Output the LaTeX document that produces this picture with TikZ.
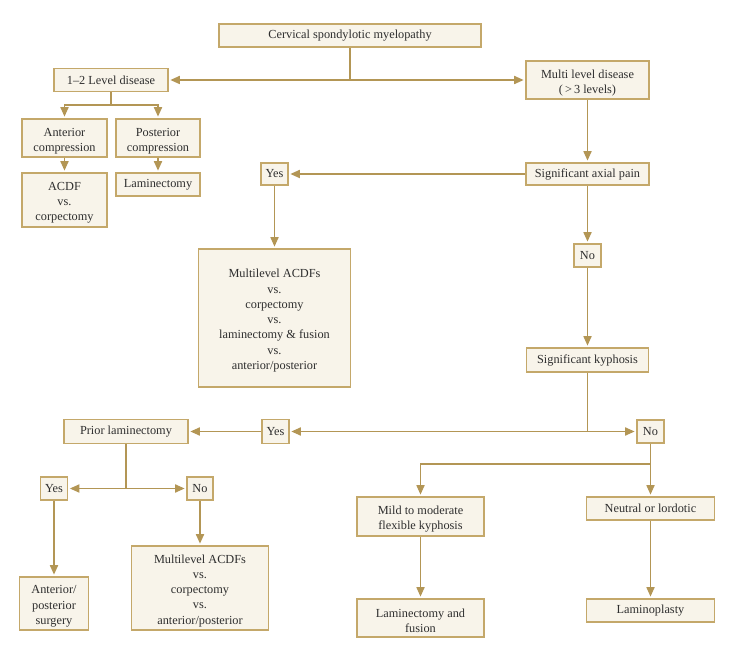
\documentclass[tikz,border=0pt]{standalone}
\usepackage{fontspec}
\setmainfont{Liberation Serif}
\usetikzlibrary{arrows.meta}
\definecolor{lnc}{HTML}{B39655}
\definecolor{bdc}{HTML}{C4A86A}
\definecolor{fillc}{HTML}{F8F4EA}
\definecolor{txtc}{HTML}{2E2E2E}
\newcommand{\strutup}{\rule{0pt}{14pt}}
\begin{document}
\begin{tikzpicture}[x=1pt,y=-1pt,
  box/.style={draw=bdc, fill=fillc, line width=1.7pt, align=center, inner sep=0pt,
    text=txtc, font=\fontsize{12.3}{15.3}\selectfont},
  conn/.style={draw=lnc, line width=1.7pt},
  tip/.tip={Triangle[length=9.5pt,width=8pt]},
  arr/.style={conn, -tip, shorten >=1.5pt},
  darr/.style={conn, tip-tip, shorten >=1.5pt, shorten <=1.5pt}]
\useasboundingbox (0,0) rectangle (731,652);
\fill[white] (0,0) rectangle (731,652);
% nodes
\node[box, minimum width=262pt, minimum height=23pt] (cerv) at (350,35.5) {Cervical spondylotic myelopathy};
\node[box, minimum width=114pt, minimum height=23pt] (l12) at (111,80) {1–2 Level disease};
\node[box, minimum width=123pt, minimum height=38pt] (multi) at (587.5,80) {\strutup Multi level disease\\(\,>\,3 levels)};
\node[box, minimum width=85pt, minimum height=38pt] (ant) at (64.5,138) {\strutup Anterior\\compression};
\node[box, minimum width=84pt, minimum height=38pt] (post) at (158,138) {\strutup Posterior\\compression};
\node[box, minimum width=85pt, minimum height=54pt] (acdf) at (64.5,200) {\strutup ACDF\\vs.\\corpectomy};
\node[box, minimum width=84pt, minimum height=23pt] (lam) at (158,184.5) {Laminectomy};
\node[box, minimum width=27pt, minimum height=22pt] (yes1) at (274.5,174) {Yes};
\node[box, minimum width=123pt, minimum height=22pt] (axial) at (587.5,174) {Significant axial pain};
\node[box, minimum width=152pt, minimum height=138pt] (mla) at (274.5,318) {\strutup Multilevel ACDFs\\vs.\\corpectomy\\vs.\\laminectomy \& fusion\\vs.\\anterior/posterior};
\node[box, minimum width=27pt, minimum height=23pt] (no1) at (587.5,255.5) {No};
\node[box, minimum width=122pt, minimum height=24pt] (kyph) at (587.5,360) {Significant kyphosis};
\node[box, minimum width=124pt, minimum height=24pt] (prior) at (126,431.5) {Prior laminectomy};
\node[box, minimum width=27pt, minimum height=24pt] (yes2) at (275.5,431.5) {Yes};
\node[box, minimum width=27pt, minimum height=23pt] (no2) at (650.5,431.5) {No};
\node[box, minimum width=27pt, minimum height=23pt] (yes3) at (54,488.5) {Yes};
\node[box, minimum width=26pt, minimum height=23pt] (no3) at (200,488.5) {No};
\node[box, minimum width=69pt, minimum height=53pt] (antpost) at (54,603.5) {\strutup Anterior/\\posterior\\surgery};
\node[box, minimum width=137pt, minimum height=84pt] (ml2) at (200,588) {\strutup Multilevel ACDFs\\vs.\\corpectomy\\vs.\\anterior/posterior};
\node[box, minimum width=127pt, minimum height=39pt] (mild) at (420.5,516.5) {\strutup Mild to moderate\\flexible kyphosis};
\node[box, minimum width=128pt, minimum height=23pt] (neut) at (650.5,508.5) {Neutral or lordotic};
\node[box, minimum width=127pt, minimum height=38pt] (lamfus) at (420.5,618) {\strutup Laminectomy and\\fusion};
\node[box, minimum width=128pt, minimum height=23pt] (lamp) at (650.5,610.5) {Laminoplasty};
% connectors
\draw[conn] (cerv.south) -- (cerv.south |- l12.east);
\draw[darr] (l12.east) -- (multi.west);
\draw[conn] (l12.south) -- ++(0,12.5) coordinate (b1);
\draw[arr] (b1) -| (ant.north);
\draw[arr] (b1) -| (post.north);
\draw[arr] (ant.south) -- (acdf.north);
\draw[arr] (post.south) -- (lam.north);
\draw[arr] (multi.south) -- (axial.north);
\draw[arr] (axial.west) -- (yes1.east);
\draw[arr] (yes1.south) -- (mla.north);
\draw[arr] (axial.south) -- (no1.north);
\draw[arr] (no1.south) -- (kyph.north);
\draw[conn] (kyph.south) -- (kyph.south |- no2.west);
\draw[darr] (yes2.east) -- (no2.west);
\draw[arr] (yes2.west) -- (prior.east);
\draw[conn] (prior.south) -- (prior.south |- yes3.east) coordinate (b2);
\draw[arr] (b2) -- (yes3.east);
\draw[arr] (b2) -- (no3.west);
\draw[arr] (yes3.south) -- (antpost.north);
\draw[arr] (no3.south) -- (ml2.north);
\draw[conn] (no2.south) -- ++(0,20) coordinate (b3);
\draw[arr] (b3) -| (mild.north);
\draw[arr] (b3) -- (neut.north);
\draw[arr] (mild.south) -- (lamfus.north);
\draw[arr] (neut.south) -- (lamp.north);
\end{tikzpicture}
\end{document}
